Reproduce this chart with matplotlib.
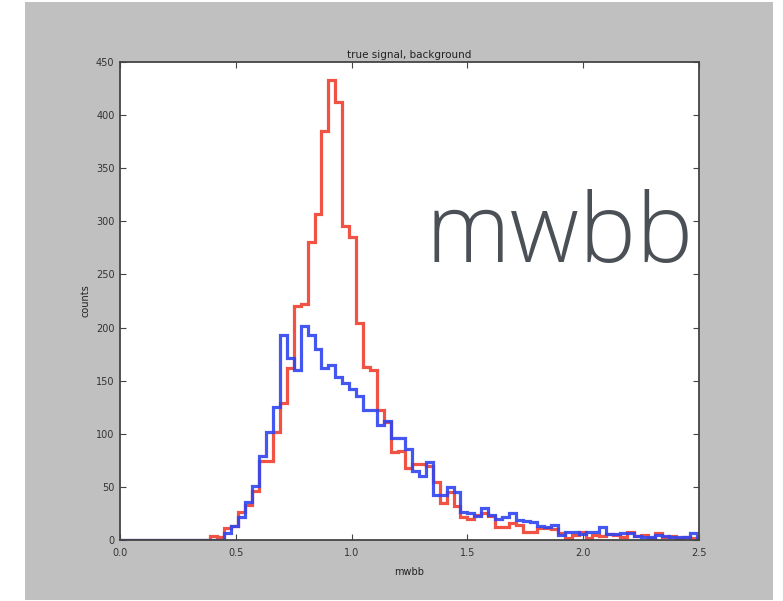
import numpy as np
import matplotlib
matplotlib.use('Agg')
import matplotlib.pyplot as plt
from matplotlib.patches import Rectangle

# histogram bins: width 0.03 starting at 0
bin_width = 0.03
n_bins = 84

# true signal (red), counts per bin from bin 13 on
signal = [4, 3, 11, 13, 26, 33, 46, 74, 74, 102, 129, 162, 220, 222, 281,
          307, 385, 433, 412, 296, 285, 204, 163, 160, 122, 111, 83, 84,
          68, 72, 72, 70, 55, 35, 45, 32, 22, 20, 24, 25, 23, 12, 12, 16,
          14, 8, 8, 11, 11, 10, 7, 2, 5, 8, 2, 5, 4, 6, 5, 3, 8, 4, 5, 2,
          7, 3, 4, 2, 3, 2, 1]
signal_start = 13

# background (blue), counts per bin from bin 15 on
background = [7, 13, 22, 36, 51, 79, 102, 125, 193, 171, 160, 201, 193,
              180, 162, 165, 153, 148, 142, 136, 122, 122, 108, 112, 96, 96,
              86, 65, 60, 73, 42, 42, 50, 45, 26, 25, 23, 30, 24, 20, 22, 25,
              19, 18, 17, 13, 12, 14, 5, 8, 8, 6, 8, 8, 12, 6, 6, 7, 7, 4, 3,
              3, 5, 4, 3, 3, 3, 7, 2]
background_start = 15

xticks = [0.0, 0.5, 1.0, 1.5, 2.0, 2.5]
yticks = list(range(0, 451, 50))

sig = np.zeros(n_bins)
sig[signal_start:signal_start + len(signal)] = signal
bkg = np.zeros(n_bins)
bkg[background_start:background_start + len(background)] = background
edges = np.arange(n_bins + 1) * bin_width

fig = plt.figure(figsize=(7.83, 6.01), dpi=100)
fig.patch.set_facecolor('white')
# gray slide background, behind the axes
bg = Rectangle((25 / 783, 1 / 601), 748 / 783, 598 / 601,
               transform=fig.transFigure, facecolor='#c0c0c0',
               edgecolor='none', zorder=-10)
fig.add_artist(bg)

ax = fig.add_axes([120 / 783, 61 / 601, 579 / 783, 478 / 601])
ax.set_facecolor('white')

ax.stairs(sig, edges, color='#f04a3a', linewidth=2.3, alpha=0.95)
ax.stairs(bkg, edges, color='#2f45f0', linewidth=2.3, alpha=0.9)

ax.set_xlim(0, 2.5)
ax.set_ylim(0, 450)
ax.set_xticks(xticks)
ax.set_yticks(yticks)
ax.tick_params(direction='in', top=True, right=True, length=4,
               labelsize=7, colors='#444444', labelcolor='#333333')
ax.tick_params(axis='x', pad=6)
ax.tick_params(axis='y', pad=4)
for s in ax.spines.values():
    s.set_color('#444444')
    s.set_linewidth(1.3)

ax.set_title('true signal, background', fontsize=7.5, color='#222222', pad=3)
ax.set_xlabel('mwbb', fontsize=7, color='#222222', labelpad=6)
ax.set_ylabel('counts', fontsize=7, color='#222222', labelpad=4)

fig.text(425 / 783, 1 - 262 / 601, 'mwbb', fontsize=69, color='#4b5057',
         family=['Open Sans', 'DejaVu Sans'], fontweight='light',
         ha='left', va='baseline', zorder=5)

fig.savefig('out.png', dpi=100, facecolor=fig.get_facecolor())
